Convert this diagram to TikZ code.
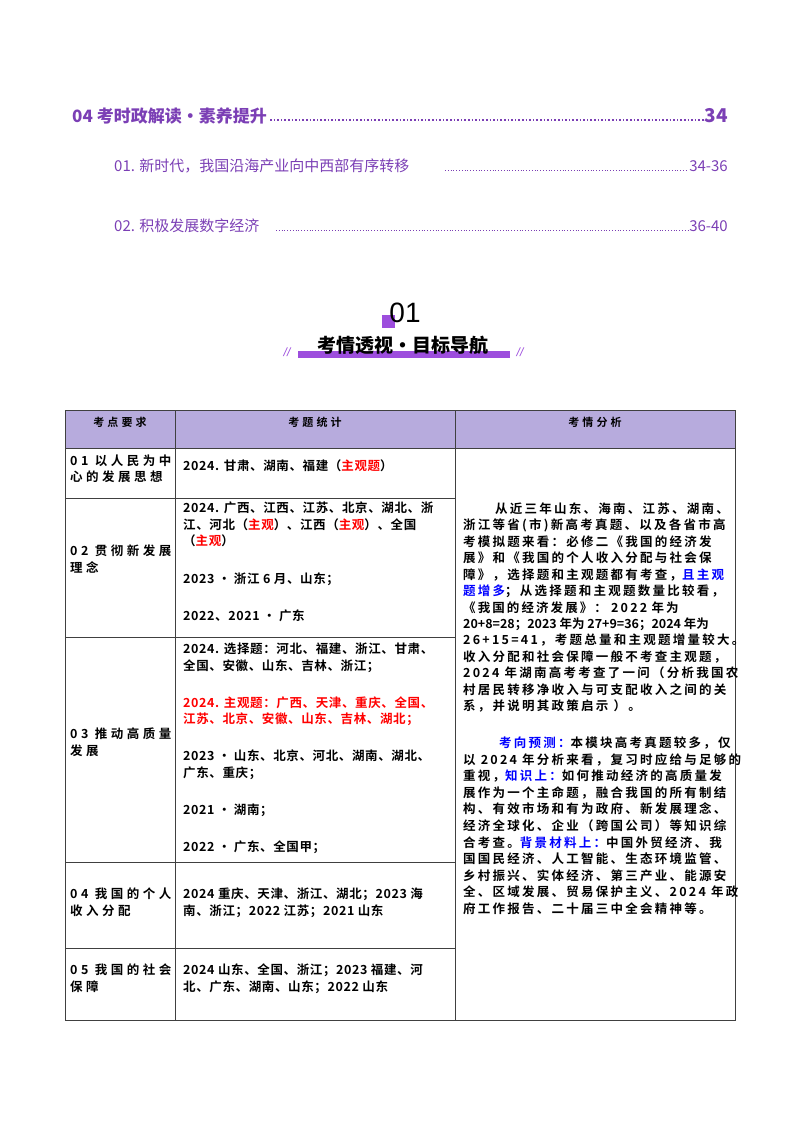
\documentclass[tikz,border=0pt]{standalone}
\usepackage{fontspec}
\setmainfont{Liberation Sans}
\newfontfamily\cjk{Noto Sans CJK SC}
\newfontfamily\cjkb{Noto Sans CJK SC Bold}
\newfontfamily\cjkc[LetterSpace=5]{Noto Sans CJK SC Bold}
\newfontfamily\cjkr[LetterSpace=18]{Noto Sans CJK SC Bold}
\newfontfamily\cjkl[LetterSpace=28]{Noto Sans CJK SC Bold}
\definecolor{pur}{HTML}{7B3FB5}
\definecolor{bar}{HTML}{9D4EDD}
\definecolor{hdr}{HTML}{B7ABDD}
\definecolor{rd}{HTML}{FF0000}
\definecolor{bl}{HTML}{0000FF}
\tikzset{
 toc/.style={anchor=base west,text=pur,inner sep=0pt,font=\cjk\fontsize{15}{17}\selectfont},
 ll/.style={anchor=base west,inner sep=0pt,font=\cjkl\fontsize{12.5}{14}\selectfont},
 tl/.style={anchor=base west,inner sep=0pt,font=\cjkc\fontsize{12.5}{14}\selectfont},
 rl/.style={anchor=base west,inner sep=0pt,font=\cjkr\fontsize{12.5}{14}\selectfont},
 pl/.style={anchor=base west,inner sep=0pt,font=\cjkb\fontsize{12.5}{14}\selectfont},
 hd/.style={anchor=center,inner sep=0pt,font=\cjkl\fontsize{11}{13}\selectfont},
 grid/.style={draw=black!75,line width=0.9pt}
}
\begin{document}
\begin{tikzpicture}[x=1pt,y=-1pt]
\useasboundingbox (0,0) rectangle (800,1132);
% TOC
\node[toc,font=\cjk\bfseries\fontsize{17}{20}\selectfont] (t0) at (72,122) {04 考时政解读·素养提升};
\node[toc,font=\cjk\bfseries\fontsize{19}{20}\selectfont,anchor=base east] (t0p) at (728,122) {34};
\draw[pur,line width=1.6pt,dotted] (270,120) -- (704,120);
\node[toc] (t1) at (114,171) {01. 新时代，我国沿海产业向中西部有序转移};
\draw[pur,line width=0.8pt,dotted] (445,170) -- (688,170);
\node[toc,anchor=base east] (t1p) at (728,171) {34-36};
\node[toc] (t2) at (114,231) {02. 积极发展数字经济};
\draw[pur,line width=0.8pt,dotted] (276,230) -- (688,230);
\node[toc,anchor=base east] (t2p) at (728,231) {36-40};
% title
\fill[bar] (382,315) rectangle (395,328);
\node[inner sep=0pt,font=\fontsize{28}{30}\selectfont] (n01) at (405,313) {01};
\fill[bar] (298,351) rectangle (510,358);
\node[inner sep=0pt,font=\cjk\bfseries\fontsize{19}{21}\selectfont] (ttl) at (403,345) {考情透视·目标导航};
\node[inner sep=0pt,text=bar,font=\fontsize{12}{12}\selectfont\itshape] (s1) at (287,352) {//};
\node[inner sep=0pt,text=bar,font=\fontsize{12}{12}\selectfont\itshape] (s2) at (520,352) {//};
% table
\fill[hdr] (65,410) rectangle (735,448);
\draw[grid] (65,410) rectangle (735,1020);
\draw[grid] (175,410) -- (175,1020);
\draw[grid] (455,410) -- (455,1020);
\draw[grid] (65,448) -- (735,448);
\foreach \y in {498,637,862,948} \draw[grid] (65,\y) -- (455,\y);
\node[hd] (h1) at (120,422) {考点要求};
\node[hd] (h2) at (315,422) {考题统计};
\node[hd] (h3) at (595,422) {考情分析};
% col 1
\node[ll] (a1) at (70,465) {01 以人民为中};
\node[ll] (a1b) at (70,481) {心的发展思想};
\node[ll] (a2) at (70,555) {02 贯彻新发展};
\node[ll] (a2b) at (70,572) {理念};
\node[ll] (a3) at (70,738) {03 推动高质量};
\node[ll] (a3b) at (70,755) {发展};
\node[ll] (a4) at (70,898) {04 我国的个人};
\node[ll] (a4b) at (70,915) {收入分配};
\node[ll] (a5) at (70,974) {05 我国的社会};
\node[ll] (a5b) at (70,991) {保障};
% col 2
\node[tl] (b1) at (183,470) {2024. 甘肃、湖南、福建（\textcolor{rd}{主观题}）};
\node[tl] (b2) at (183,512) {2024. 广西、江西、江苏、北京、湖北、浙};
\node[tl] (b2b) at (183,529) {江、河北（\textcolor{rd}{主观}）、江西（\textcolor{rd}{主观}）、全国};
\node[tl] (b2c) at (183,545) {（\textcolor{rd}{主观}）};
\node[tl] (b2d) at (183,583) {2023 • 浙江 6 月、山东；};
\node[tl] (b2e) at (183,620) {2022、2021 • 广东};
\node[tl] (b3) at (183,653) {2024. 选择题：河北、福建、浙江、甘肃、};
\node[tl] (b3b) at (183,670) {全国、安徽、山东、吉林、浙江；};
\node[tl,text=rd] (b3c) at (183,707) {2024. 主观题：广西、天津、重庆、全国、};
\node[tl,text=rd] (b3d) at (183,723) {江苏、北京、安徽、山东、吉林、湖北；};
\node[tl] (b3e) at (183,760) {2023 • 山东、北京、河北、湖南、湖北、};
\node[tl] (b3f) at (183,777) {广东、重庆；};
\node[tl] (b3g) at (183,814) {2021 • 湖南；};
\node[tl] (b3h) at (183,851) {2022 • 广东、全国甲；};
\node[tl] (b4) at (183,898) {2024 重庆、天津、浙江、湖北；2023 海};
\node[tl] (b4b) at (183,915) {南、浙江；2022 江苏；2021 山东};
\node[tl] (b5) at (183,974) {2024 山东、全国、浙江；2023 福建、河};
\node[tl] (b5b) at (183,991) {北、广东、湖南、山东；2022 山东};
% col 3
\node[rl] (c1) at (495,513) {从近三年山东、海南、江苏、湖南、};
\node[rl] (c2) at (463,529) {浙江等省(市)新高考真题、以及各省市高};
\node[rl] (c3) at (463,546) {考模拟题来看：必修二《我国的经济发};
\node[rl] (c4) at (463,562) {展》和《我国的个人收入分配与社会保};
\node[rl] (c5) at (463,579) {障》，选择题和主观题都有考查，\textcolor{bl}{且主观}};
\node[rl] (c6) at (463,595) {\textcolor{bl}{题增多}；从选择题和主观题数量比较看，};
\node[rl] (c7) at (463,612) {《\,我\,国\,的\,经\,济\,发\,展\,》\,：\,\,2022\,\,年\,为};
\node[pl] (c8) at (463,628) {20+8=28；2023 年为 27+9=36；2024 年为};
\node[rl] (c9) at (463,644) {26+15=41，考题总量和主观题增量较大。};
\node[rl] (c10) at (463,661) {收入分配和社会保障一般不考查主观题，};
\node[rl] (c11) at (463,677) {2024 年湖南高考考查了一问（分析我国农};
\node[rl] (c12) at (463,694) {村居民转移净收入与可支配收入之间的关};
\node[rl] (c13) at (463,710) {系，并说明其政策启示 ）。};
\node[rl] (d1) at (499,747) {\textcolor{bl}{考向预测：}本模块高考真题较多，仅};
\node[rl] (d2) at (463,764) {以 2024 年分析来看，复习时应给与足够的};
\node[rl] (d3) at (463,780) {重视，\textcolor{bl}{知识上：}如何推动经济的高质量发};
\node[rl] (d4) at (463,797) {展作为一个主命题，融合我国的所有制结};
\node[rl] (d5) at (463,813) {构、有效市场和有为政府、新发展理念、};
\node[rl] (d6) at (463,830) {经济全球化、企业（跨国公司）等知识综};
\node[rl] (d7) at (463,847) {合考查。\textcolor{bl}{背景材料上：}中国外贸经济、我};
\node[rl] (d8) at (463,863) {国国民经济、人工智能、生态环境监管、};
\node[rl] (d9) at (463,880) {乡村振兴、实体经济、第三产业、能源安};
\node[rl] (d10) at (463,896) {全、区域发展、贸易保护主义、2024 年政};
\node[rl] (d11) at (463,913) {府工作报告、二十届三中全会精神等。};
\end{tikzpicture}
\end{document}
